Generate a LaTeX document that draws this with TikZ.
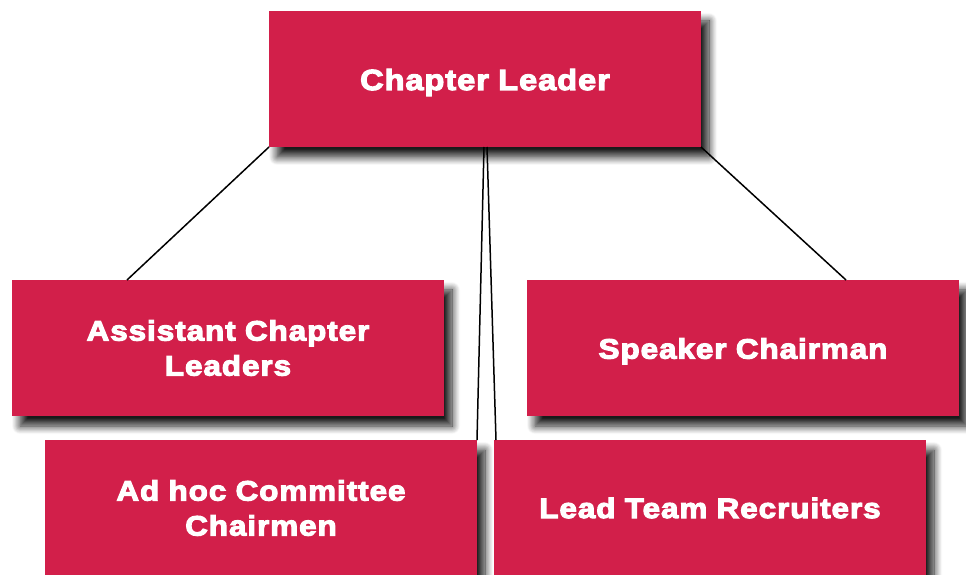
\documentclass[tikz,border=0pt]{standalone}
\usepackage{fontspec}
\newfontfamily\rolefont[FakeStretch=1.12,LetterSpace=3.5,FakeBold=4]{Liberation Sans}
\usetikzlibrary{positioning,shadows.blur}
\definecolor{chapred}{RGB}{210,31,74}

\begin{document}
\begin{tikzpicture}[x=1pt, y=1pt,
    role/.style={rectangle, fill=chapred, minimum width=432pt, minimum height=136pt,
        inner sep=0pt, outer sep=0pt, text=white, text width=420pt, align=center,
        font=\rolefont\bfseries\fontsize{28}{35}\selectfont,
        blur shadow={shadow xshift=8pt, shadow yshift=-10pt, shadow blur radius=8pt,
            shadow opacity=90, shadow blur steps=10}},
    link/.style={draw=black, line width=1.5pt}]
        \useasboundingbox (0,0) rectangle (966,574);
        % Define roles
        \node[role] (Leader) at (485,495) {\fontsize{29}{35}\selectfont\rule{0pt}{28pt}Chapter Leader};
        \node[role] (Assist) at (228,226) {Assistant Chapter\\Leaders};
        \node[role] (Speaker) at (743,226) {\rule{0pt}{27pt}Speaker Chairman};
        \node[role] (AdHoc) at (261,66) {Ad hoc Committee\\Chairmen};
        \node[role] (Recruit) at (710,66) {Lead Team Recruiters};

        \path[link]
        % From the leader down to every role
        (Leader.south west) edge ([xshift=-101pt]Assist.north)
        (Leader.south east) edge ([xshift=103pt]Speaker.north)
        ([xshift=-1pt]Leader.south) edge (AdHoc.north east)
        ([xshift=2pt]Leader.south) edge ([xshift=2pt]Recruit.north west);
    \end{tikzpicture}
\end{document}
